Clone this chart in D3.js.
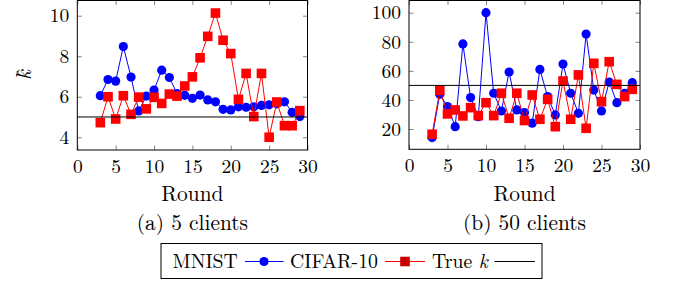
<!DOCTYPE html>
<html>
<head>
<meta charset="utf-8">
<script src="https://cdn.jsdelivr.net/npm/d3@7"></script>
<style>
  body { margin: 0; background: #fff; }
</style>
</head>
<body>
<div id="chart"></div>
<script>
// rounds 3..29
var rounds = [3, 4, 5, 6, 7, 8, 9, 10, 11, 12, 13, 14, 15, 16, 17, 18, 19, 20, 21, 22, 23, 24, 25, 26, 27, 28, 29];

// (a) 5 clients
var mnist5 = [6.05, 6.85, 6.77, 8.48, 6.97, 5.3, 6.03, 6.33, 7.31, 6.95, 6.15, 6.07, 5.92, 6.08, 5.84, 5.75, 5.38, 5.35, 5.5, 5.48, 5.5, 5.57, 5.6, 5.65, 5.75, 5.23, 5.02];
var cifar5 = [4.72, 6.0, 4.9, 6.05, 5.13, 5.98, 5.4, 5.97, 5.67, 6.13, 6.03, 6.53, 6.98, 7.92, 8.98, 10.13, 8.79, 8.13, 5.87, 7.15, 5.02, 7.15, 4.0, 5.74, 4.57, 4.57, 5.31];
var trueK5 = 5;

// (b) 50 clients
var mnist50 = [14.1, 43.9, 35.4, 21.6, 78.5, 41.6, 28.5, 100, 44.6, 32.4, 59.2, 33.1, 31.3, 24, 61, 42.3, 29.7, 64.7, 44.6, 30.8, 85.3, 46.8, 32.4, 52.3, 38.1, 44.6, 51.9];
var cifar50 = [16.4, 46.6, 30.4, 33.1, 29, 34.7, 29.2, 38.1, 29.2, 44.6, 27.4, 44.6, 25.8, 43.4, 26.7, 40.4, 21.6, 53, 26.7, 57.2, 20.5, 65.2, 38.8, 66.3, 50.7, 42.3, 47.3];
var trueK50 = 50;

var xTicks = [0, 5, 10, 15, 20, 25, 30];
var yTicks5 = [4, 6, 8, 10];
var yTicks50 = [20, 40, 60, 80, 100];

var W = 676, H = 284;
var blue = "#0000ff", red = "#ff0000";
var FONT = "'Latin Modern Roman', 'Liberation Serif', serif";

var svg = d3.select("#chart").append("svg")
    .attr("width", W)
    .attr("height", H);

function txt(sel, size) {
    return sel.style("font-family", FONT).style("font-size", size + "px").attr("fill", "#000");
}

function panel(opt) {
    var x = d3.scaleLinear().domain([0, 30]).range([opt.left, opt.right]);
    var y = d3.scaleLinear().domain(opt.ydom).range([opt.bottom, opt.top]);
    var g = svg.append("g");

    // axes (ticks inside, mirrored)
    var tl = 4.5;
    var bx = d3.axisBottom(x).tickValues(xTicks).tickSizeInner(-tl).tickSizeOuter(0).tickPadding(9);
    var tx = d3.axisTop(x).tickValues(xTicks).tickSizeInner(-tl).tickSizeOuter(0).tickFormat("");
    var ly = d3.axisLeft(y).tickValues(opt.yticks).tickSizeInner(-tl).tickSizeOuter(0).tickPadding(8);
    var ry = d3.axisRight(y).tickValues(opt.yticks).tickSizeInner(-tl).tickSizeOuter(0).tickFormat("");

    [[bx, "translate(0," + opt.bottom + ")"], [tx, "translate(0," + opt.top + ")"],
     [ly, "translate(" + opt.left + ",0)"], [ry, "translate(" + opt.right + ",0)"]].forEach(function (a) {
        var ax = g.append("g").attr("transform", a[1]).call(a[0]);
        ax.attr("font-family", null).attr("font-size", null);
        ax.select(".domain").remove();
        ax.selectAll(".tick line").attr("stroke", "#666").attr("stroke-width", 0.8);
        txt(ax.selectAll(".tick text"), 19.5);
    });

    var line = d3.line().x(function (d, i) { return x(rounds[i]); }).y(function (d) { return y(d); });

    // MNIST
    g.append("path").datum(opt.mnist).attr("d", line)
        .attr("fill", "none").attr("stroke", blue).attr("stroke-width", 1);
    g.selectAll(".c").data(opt.mnist).enter().append("circle")
        .attr("cx", function (d, i) { return x(rounds[i]); })
        .attr("cy", function (d) { return y(d); })
        .attr("r", 4.6).attr("fill", blue);

    // CIFAR-10
    g.append("path").datum(opt.cifar).attr("d", line)
        .attr("fill", "none").attr("stroke", red).attr("stroke-width", 1);
    var s = 9.6;
    g.selectAll(".s").data(opt.cifar).enter().append("rect")
        .attr("x", function (d, i) { return x(rounds[i]) - s / 2; })
        .attr("y", function (d) { return y(d) - s / 2; })
        .attr("width", s).attr("height", s).attr("fill", red);

    // true k
    g.append("line")
        .attr("x1", opt.left).attr("x2", opt.right)
        .attr("y1", y(opt.trueK)).attr("y2", y(opt.trueK))
        .attr("stroke", "#000").attr("stroke-width", 1);

    // frame
    g.append("rect")
        .attr("x", opt.left).attr("y", opt.top)
        .attr("width", opt.right - opt.left).attr("height", opt.bottom - opt.top)
        .attr("fill", "none").attr("stroke", "#000").attr("stroke-width", 1);

    var cx = (opt.left + opt.right) / 2;
    txt(g.append("text").attr("x", cx).attr("y", 201).attr("text-anchor", "middle"), 21.4).text("Round");
    txt(g.append("text").attr("x", cx).attr("y", 230).attr("text-anchor", "middle"), 21.4).text(opt.caption);
}

panel({ left: 77.3, right: 307.5, top: 0.5, bottom: 150,
        ydom: [3.37, 10.75], yticks: yTicks5,
        mnist: mnist5, cifar: cifar5, trueK: trueK5, caption: "(a) 5 clients" });
panel({ left: 409, right: 640, top: 0.5, bottom: 149.3,
        ydom: [6.04, 108.4], yticks: yTicks50,
        mnist: mnist50, cifar: cifar50, trueK: trueK50, caption: "(b) 50 clients" });

// y label k-hat (rotated)
txt(svg.append("text")
    .attr("transform", "translate(31,75) rotate(-90)")
    .attr("text-anchor", "middle"), 21.4)
    .style("font-style", "italic")
    .text("k\u0302");

// legend
var lg = svg.append("g");
lg.append("rect").attr("x", 161).attr("y", 243.5).attr("width", 381).attr("height", 35)
    .attr("fill", "#fff").attr("stroke", "#000").attr("stroke-width", 1);
var ly0 = 261;
txt(lg.append("text").attr("x", 172.5).attr("y", ly0 + 7), 19.8).text("MNIST");
lg.append("line").attr("x1", 245).attr("x2", 283.5).attr("y1", ly0 + 0.5).attr("y2", ly0 + 0.5)
    .attr("stroke", blue).attr("stroke-width", 1);
lg.append("circle").attr("cx", 264).attr("cy", ly0 + 0.5).attr("r", 4.6).attr("fill", blue);
txt(lg.append("text").attr("x", 290).attr("y", ly0 + 7), 19.8).text("CIFAR-10");
lg.append("line").attr("x1", 385).attr("x2", 425).attr("y1", ly0 + 0.5).attr("y2", ly0 + 0.5)
    .attr("stroke", red).attr("stroke-width", 1);
lg.append("rect").attr("x", 405 - 4.8).attr("y", ly0 + 0.5 - 4.8).attr("width", 9.6).attr("height", 9.6)
    .attr("fill", "#cc0000");
var tk = txt(lg.append("text").attr("x", 432).attr("y", ly0 + 7), 19.8);
tk.append("tspan").text("True ");
tk.append("tspan").style("font-style", "italic").text("k");
lg.append("line").attr("x1", 494.5).attr("x2", 535).attr("y1", ly0 + 0.5).attr("y2", ly0 + 0.5)
    .attr("stroke", "#000").attr("stroke-width", 1);
</script>
</body>
</html>
